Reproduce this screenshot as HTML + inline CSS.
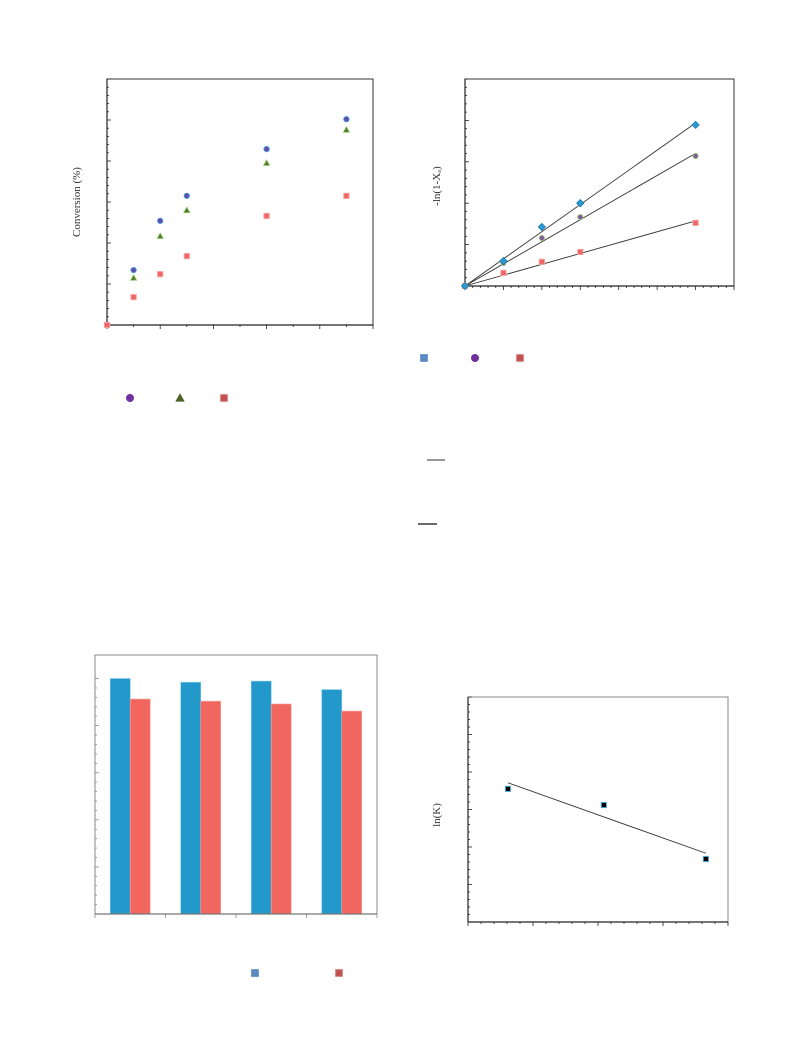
<!DOCTYPE html>
<html><head><meta charset="utf-8">
<style>
html,body{margin:0;padding:0;background:#fff;}
svg{display:block;font-family:"Liberation Serif",serif;}
</style></head>
<body>
<svg id="root" width="793" height="1057" viewBox="0 0 793 1057"></svg>
<script>
// ---------- Chart 1 data: conversion vs time ----------
const c1X = [0.5, 1, 1.5, 3, 4.5];
const c1Circle = [13.4, 25.4, 31.5, 42.9, 50.2];
const c1Triangle = [11.5, 21.7, 28.0, 39.5, 47.6];
const c1SquareX = [0, 0.5, 1, 1.5, 3, 4.5];
const c1Square = [0, 6.8, 12.4, 16.8, 26.6, 31.5];
// ---------- Chart 2 data: -ln(1-XA) vs time ----------
const c2X = [0, 1, 2, 3, 6];
const c2Diamond = [0, 0.61, 1.44, 2.02, 3.93];
const c2Circle = [0, 0.56, 1.17, 1.68, 3.17];
const c2Square = [0, 0.32, 0.59, 0.83, 1.54];
// ---------- Chart 3 data: bars ----------
const c3Categories = ["g1", "g2", "g3", "g4"];
const c3Blue = [100, 98.4, 98.9, 95.3];
const c3Red = [91.3, 90.4, 89.2, 86.2];
// ---------- Chart 4 data: ln(K) vs 1/T ----------
const c4X = [0.615, 2.09, 3.66];
const c4Y = [3.55, 3.12, 1.68];

const NS = "http://www.w3.org/2000/svg";
const root = document.getElementById("root");
function mk(tag, attrs, parent) {
  const e = document.createElementNS(NS, tag);
  for (const k in attrs) e.setAttribute(k, attrs[k]);
  (parent || root).appendChild(e);
  return e;
}
function scale(d0, d1, r0, r1) { return v => r0 + (v - d0) / (d1 - d0) * (r1 - r0); }

function frame(g, x0, y0, x1, y1, xMaj, xMin, yMaj, yMin, col, rightTop) {
  mk("rect", {x: x0, y: y0, width: x1 - x0, height: y1 - y0, fill: "none", stroke: rightTop, "stroke-width": 1}, g);
  mk("line", {x1: x0, y1: y0, x2: x0, y2: y1, stroke: col, "stroke-width": 1.2}, g);
  mk("line", {x1: x0, y1: y1, x2: x1, y2: y1, stroke: col, "stroke-width": 1.2}, g);
  for (let i = 0; i <= xMaj * xMin; i++) {
    const x = x0 + (x1 - x0) * i / (xMaj * xMin);
    const L = i % xMin === 0 ? 4 : 2;
    mk("line", {x1: x, y1: y1, x2: x, y2: y1 + L, stroke: col, "stroke-width": 0.8}, g);
  }
  for (let i = 0; i <= yMaj * yMin; i++) {
    const y = y1 - (y1 - y0) * i / (yMaj * yMin);
    const L = i % yMin === 0 ? 4 : 2;
    mk("line", {x1: x0, y1: y, x2: x0 + L, y2: y, stroke: col, "stroke-width": 0.8}, g);
  }
}
function marker(g, type, x, y, fill, stroke, s) {
  let e;
  if (type === "circle") e = mk("circle", {cx: x, cy: y, r: s, fill: fill, stroke: stroke, "stroke-width": 1}, g);
  else if (type === "square") e = mk("rect", {x: x - s, y: y - s, width: 2 * s, height: 2 * s, fill: fill, stroke: stroke, "stroke-width": 1}, g);
  else if (type === "triangle") e = mk("polygon", {points: `${x},${y - s} ${x - s},${y + s * 0.8} ${x + s},${y + s * 0.8}`, fill: fill, stroke: stroke, "stroke-width": 0.8}, g);
  else e = mk("polygon", {points: `${x},${y - s} ${x + s},${y} ${x},${y + s} ${x - s},${y}`, fill: fill, stroke: stroke, "stroke-width": 0.8}, g);
  return e;
}
function ylabel(g, text, x, y, size) {
  const t = mk("text", {x: x, y: y, "font-size": size, fill: "#333", "text-anchor": "middle", transform: `rotate(-90 ${x} ${y})`}, g);
  t.textContent = text;
  return t;
}

// ---------- Chart 1 ----------
const g1 = mk("g", {});


frame(g1, 107, 79, 373, 325, 5, 2, 6, 5, "#222", "#333");
const x1s = scale(0, 5, 107, 373), y1s = scale(0, 60, 325, 79);
const yl1 = ylabel(g1, "Conversion (%)", 80, 202, 11);


c1X.forEach((v, i) => {
  const m = marker(g1, "circle", x1s(v), y1s(c1Circle[i]), "#6a4aa8", "#3f90d6", 2.6);
  
  
});
c1X.forEach((v, i) => {
  const m = marker(g1, "triangle", x1s(v), y1s(c1Triangle[i]), "#4f7a2a", "#8cc060", 3);
  
  
});
c1SquareX.forEach((v, i) => {
  const m = marker(g1, "square", x1s(v), y1s(c1Square[i]), "#f06464", "#f4a0a0", 2.6);
  
  
});
const lg1 = mk("g", {});


marker(lg1, "circle", 130, 398, "#7030a0", "#7030a0", 3.5);
marker(lg1, "triangle", 180, 398, "#4f6228", "#4f6228", 4);
marker(lg1, "square", 224, 398, "#c0504d", "#d07070", 3.3);

// ---------- Chart 2 ----------
const g2 = mk("g", {});


frame(g2, 465, 79, 734, 286, 7, 5, 5, 5, "#222", "#333");
const x2s = scale(0, 7, 465, 734), y2s = scale(0, 5, 286, 81);
const yl2 = ylabel(g2, "-ln(1-X\u2090)", 440, 186, 11);


function originSlope(ys) { let n = 0, d = 0; c2X.forEach((x, i) => { n += x * ys[i]; d += x * x; }); return n / d; }
[c2Diamond, c2Circle, c2Square].forEach(ys => {
  const k = originSlope(ys);
  const l = mk("line", {x1: x2s(0), y1: y2s(0), x2: x2s(6), y2: y2s(6 * k), stroke: "#333", "stroke-width": 0.9}, g2);
  
  
});
c2X.forEach((v, i) => {
  let m = marker(g2, "circle", x2s(v), y2s(c2Circle[i]), "#7a5a9a", "#a0c080", 2.6);
  
  
  m = marker(g2, "square", x2s(v), y2s(c2Square[i]), "#f06464", "#f4a0a0", 2.6);
  
  
  m = marker(g2, "diamond", x2s(v), y2s(c2Diamond[i]), "#2b9bd1", "#1a7ab0", 3.6);
  
  
});
const lg2 = mk("g", {});


marker(lg2, "square", 424, 358, "#5b8bc0", "#4f81bd", 3.3);
marker(lg2, "circle", 475, 358, "#7030a0", "#7030a0", 3.5);
marker(lg2, "square", 520, 358, "#c0504d", "#d07070", 3.3);
mk("line", {x1: 427, y1: 460, x2: 445, y2: 460, stroke: "#777", "stroke-width": 1.5}, lg2);
mk("line", {x1: 418, y1: 524, x2: 437, y2: 524, stroke: "#111", "stroke-width": 1.2}, lg2);

// ---------- Chart 3 ----------
const g3 = mk("g", {});


mk("rect", {x: 95, y: 655, width: 282, height: 259, fill: "none", stroke: "#888", "stroke-width": 1}, g3);
const y3s = scale(0, 110, 914, 655);
for (let i = 0; i <= 25; i++) {
  const y = 914 - (914 - y3s(100)) * i / 25;
  mk("line", {x1: 95, y1: y, x2: 95 + (i % 5 === 0 ? 4 : 2), y2: y, stroke: "#888", "stroke-width": 0.8}, g3);
}
const grpW = 282 / c3Categories.length;
c3Categories.forEach((c, i) => {
  const cx = 95 + grpW * (i + 0.5);
  mk("line", {x1: 95 + grpW * i, y1: 914, x2: 95 + grpW * i, y2: 918, stroke: "#888", "stroke-width": 0.8}, g3);
  let b = mk("rect", {x: cx - 20, y: y3s(c3Blue[i]), width: 20, height: 914 - y3s(c3Blue[i]), fill: "#2398cb", stroke: "#7cc8ea", "stroke-width": 0.6}, g3);
  
  
  b = mk("rect", {x: cx, y: y3s(c3Red[i]), width: 20, height: 914 - y3s(c3Red[i]), fill: "#f26660", stroke: "#f8a8a0", "stroke-width": 0.6}, g3);
  
  
});
mk("line", {x1: 95, y1: 914, x2: 377, y2: 914, stroke: "#777", "stroke-width": 1.2}, g3);
mk("line", {x1: 377, y1: 914, x2: 377, y2: 918, stroke: "#888", "stroke-width": 0.8}, g3);
const lg3 = mk("g", {});


marker(lg3, "square", 255, 973, "#5b8bc0", "#4f81bd", 3.3);
marker(lg3, "square", 339, 973, "#c0504d", "#d07070", 3.3);

// ---------- Chart 4 ----------
const g4 = mk("g", {});


frame(g4, 468, 697, 728, 922, 4, 5, 6, 5, "#222", "#888");
const x4s = scale(0, 4, 468, 728), y4s = scale(0, 6, 922, 697);
const yl4 = ylabel(g4, "ln(K)", 440, 815, 11);


let mx = 0, my = 0; c4X.forEach((x, i) => { mx += x; my += c4Y[i]; }); mx /= c4X.length; my /= c4X.length;
let sxy = 0, sxx = 0; c4X.forEach((x, i) => { sxy += (x - mx) * (c4Y[i] - my); sxx += (x - mx) * (x - mx); });
const slope = sxy / sxx, icpt = my - slope * mx;
const xa = c4X[0], xb = c4X[c4X.length - 1];
const fl = mk("line", {x1: x4s(xa), y1: y4s(icpt + slope * xa), x2: x4s(xb), y2: y4s(icpt + slope * xb), stroke: "#333", "stroke-width": 0.9}, g4);


c4X.forEach((v, i) => {
  const m = marker(g4, "square", x4s(v), y4s(c4Y[i]), "#000", "#5ab0dd", 2.6);
  
  
});
</script>
</body></html>
